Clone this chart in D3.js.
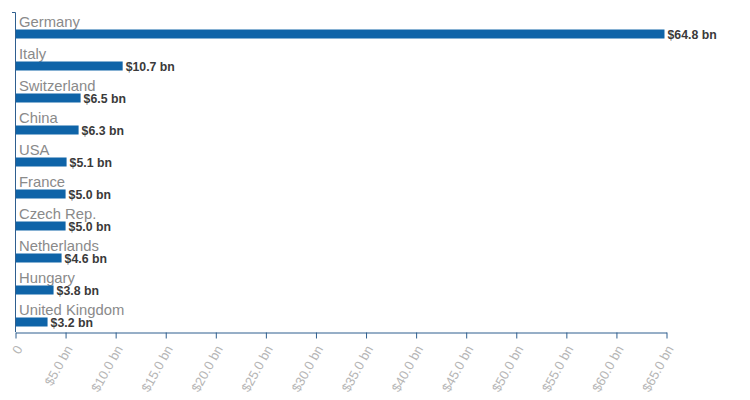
<!DOCTYPE html>
<html><head><meta charset="utf-8">
<script src="https://cdn.jsdelivr.net/npm/d3@7"></script>
<style>body{margin:0;background:#fff;font-family:"Liberation Sans",Arial,sans-serif;}</style>
</head><body><svg id="c" width="750" height="400"></svg>
<script>
const countries = ["Germany","Italy","Switzerland","China","USA","France","Czech Rep.","Netherlands","Hungary","United Kingdom"];
const values = [64.8,10.7,6.5,6.3,5.1,5.0,5.0,4.6,3.8,3.2];
const tickValues = [0,5,10,15,20,25,30,35,40,45,50,55,60,65];

const svg = d3.select("#c");
const x = d3.scaleLinear().domain([0,65]).range([15.5,666.5]);
const y = d3.scaleBand().domain(countries).range([12,332]);
const axisColor = "#2f5f8f";
const font = "Liberation Sans, Arial, sans-serif";

const g = svg.append("g");
countries.forEach((c,i)=>{
  const y0 = y(c);
  g.append("text").attr("x",19).attr("y",y0+15).text(c)
   .attr("font-family",font).attr("font-size",14.8).attr("fill","#8a8a8a");
  g.append("rect").attr("x",x(0)).attr("y",y0+17.5).attr("width",x(values[i])-x(0)).attr("height",9)
   .attr("fill","#0f64a8");
  g.append("text").attr("x",x(values[i])+3).attr("y",y0+26.5).text("$"+values[i].toFixed(1)+" bn")
   .attr("font-family",font).attr("font-size",12.3).attr("font-weight","bold").attr("fill","#3a3a3a");
});

// left axis
svg.append("path").attr("d",`M12,${y.range()[0]+0.5}H15.5V${y.range()[1]}`).attr("fill","none").attr("stroke",axisColor).attr("stroke-width",1);

// bottom axis
const xa = svg.append("g").attr("transform","translate(0,332.5)")
  .call(d3.axisBottom(x).tickValues(tickValues).tickSize(6).tickSizeOuter(0)
    .tickFormat(d=> d===0 ? "0" : "$"+d.toFixed(1)+" bn"));
xa.select(".domain").attr("stroke",axisColor);
xa.selectAll(".tick line").attr("stroke",axisColor).attr("y1",0).attr("y2",6);
xa.selectAll(".tick text").attr("font-family",font).attr("font-size",13)
  .attr("fill","#b5b5b5").attr("text-anchor","end").attr("dy","0.35em")
  .attr("transform","translate(3,14) rotate(-61)").attr("y",0).attr("x",0);
</script></body></html>
